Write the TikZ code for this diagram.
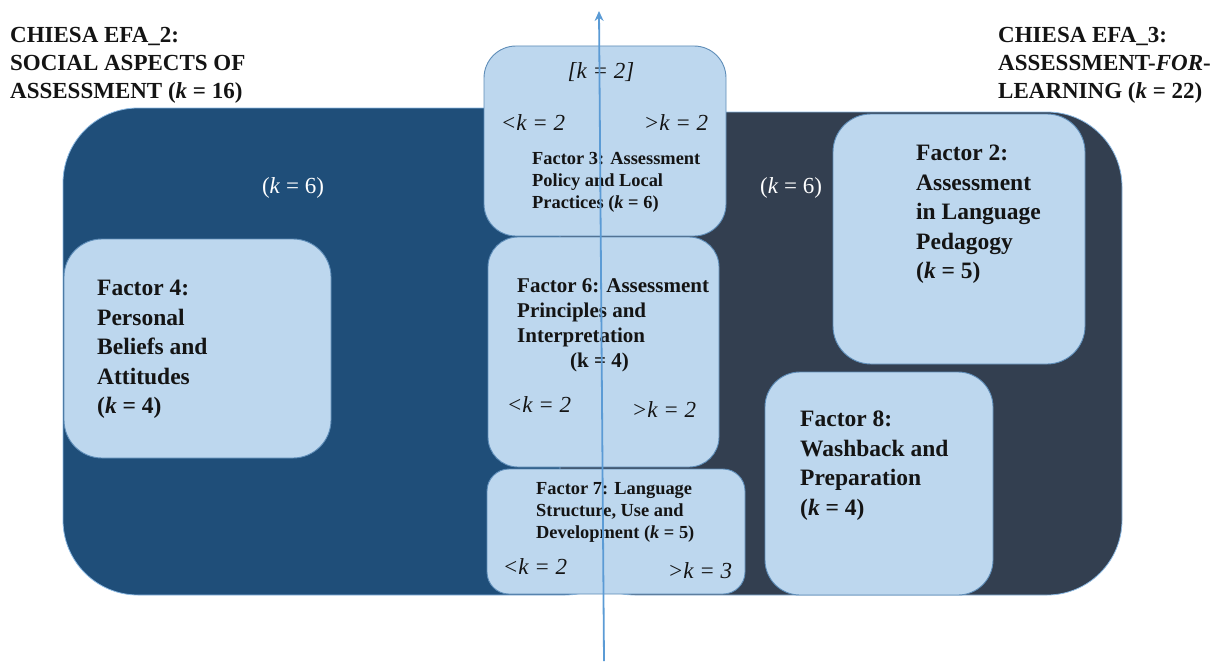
\documentclass[tikz,border=0pt]{standalone}
\usepackage{fontspec}
\setmainfont{Liberation Serif}
\usetikzlibrary{arrows.meta}
\definecolor{setblue}{HTML}{1F4E79}
\definecolor{setslate}{HTML}{333F50}
\definecolor{factorfill}{HTML}{BDD7EE}
\definecolor{factoredge}{HTML}{5E8DB8}
\definecolor{axisblue}{HTML}{5B9BD5}
\definecolor{ink}{HTML}{141414}
\tikzset{
  bigset/.style={draw=axisblue!70, line width=0.8pt, rounded corners=75pt, inner sep=0pt},
  factorbox/.style={fill=factorfill, draw=factoredge, line width=0.9pt, inner sep=0pt},
  factortext/.style={anchor=north west, inner sep=0pt, align=left, text=ink},
  bigfont/.style={font=\fontsize{23.5}{29.5}\selectfont\bfseries},
  midfont/.style={font=\fontsize{21}{25}\selectfont\bfseries},
  smallfont/.style={font=\fontsize{18.4}{22}\selectfont\bfseries},
  kcount/.style={inner sep=0pt, text=ink, font=\fontsize{23}{27}\selectfont\itshape},
  settitle/.style={anchor=north west, inner sep=0pt, align=left, text=ink,
    font=\fontsize{23}{28}\selectfont\bfseries},
  setcount/.style={inner sep=0pt, text=white, font=\fontsize{23}{28}\selectfont},
  axisline/.style={draw=axisblue, line width=1.8pt, -{Stealth[length=10pt,width=9pt]}}
}
\begin{document}
\begin{tikzpicture}[x=1pt,y=-1pt]
\useasboundingbox (0,0) rectangle (1225,661);

% the two overlapping sets
\node[bigset, fill=setblue, minimum width=577pt, minimum height=487pt] (setleft) at (351.5,351.5) {};
\node[bigset, fill=setslate, minimum width=562pt, minimum height=483pt] (setright) at (841,353.5) {};

% set titles
\node[settitle] (titleleft) at (10,27) {CHIESA EFA\_2:\\SOCIAL ASPECTS OF\\ASSESSMENT (\textit{k} = 16)};
\node[settitle] (titleright) at (998,27) {CHIESA EFA\_3:\\ASSESSMENT-\textit{FOR}-\\LEARNING (\textit{k} = 22)};

% counts of items unique to each set
\node[setcount] (countleft) at (293,188) {(\textit{k} = 6)};
\node[setcount] (countright) at (791,188) {(\textit{k} = 6)};

% factor boxes
\node[factorbox, rounded corners=32pt, minimum width=242pt, minimum height=190pt] (f3) at (605,141) {};
\node[factorbox, rounded corners=30pt, minimum width=231pt, minimum height=230pt] (f6) at (603.5,352) {};
\node[factorbox, rounded corners=22pt, minimum width=258pt, minimum height=125pt] (f7) at (616,531.5) {};
\node[factorbox, rounded corners=38pt, minimum width=267pt, minimum height=219pt] (f4) at (197.5,348.5) {};
\node[factorbox, rounded corners=38pt, minimum width=252pt, minimum height=250pt] (f2) at (959,239) {};
\node[factorbox, rounded corners=35pt, minimum width=228pt, minimum height=223pt] (f8) at (879,483.5) {};

% factor labels
\node[factortext, smallfont] (f3text) at (532,152) {Factor 3: Assessment\\Policy and Local\\Practices (\textit{k} = 6)};
\node[factortext, midfont] (f6text) at (517,278) {Factor 6: Assessment\\Principles and\\Interpretation\\\hspace*{53pt}(k = 4)};
\node[factortext, smallfont] (f7text) at (536,482) {Factor 7: Language\\Structure, Use and\\Development (\textit{k} = 5)};
\node[factortext, bigfont] (f4text) at (97,280) {Factor 4:\\Personal\\Beliefs and\\Attitudes\\(\textit{k} = 4)};
\node[factortext, bigfont] (f2text) at (916,145) {Factor 2:\\Assessment\\in Language\\Pedagogy\\(\textit{k} = 5)};
\node[factortext, bigfont] (f8text) at (800,411) {Factor 8:\\Washback and\\Preparation\\(\textit{k} = 4)};

% item splits on either side of the axis
\node[kcount] (f3all) at (601,72) {[k = 2]};
\node[kcount] (f3lo) at (533,123) {<k = 2};
\node[kcount] (f3hi) at (676,123) {>k = 2};
\node[kcount] (f6lo) at (539,405) {<k = 2};
\node[kcount] (f6hi) at (664,410) {>k = 2};
\node[kcount] (f7lo) at (535,567) {<k = 2};
\node[kcount] (f7hi) at (700,571) {>k = 3};

% vertical axis
\coordinate (axisbottom) at (604,661);
\coordinate (axistop) at (599,11);
\draw[axisline] (axisbottom) -- (axistop);
\end{tikzpicture}
\end{document}
